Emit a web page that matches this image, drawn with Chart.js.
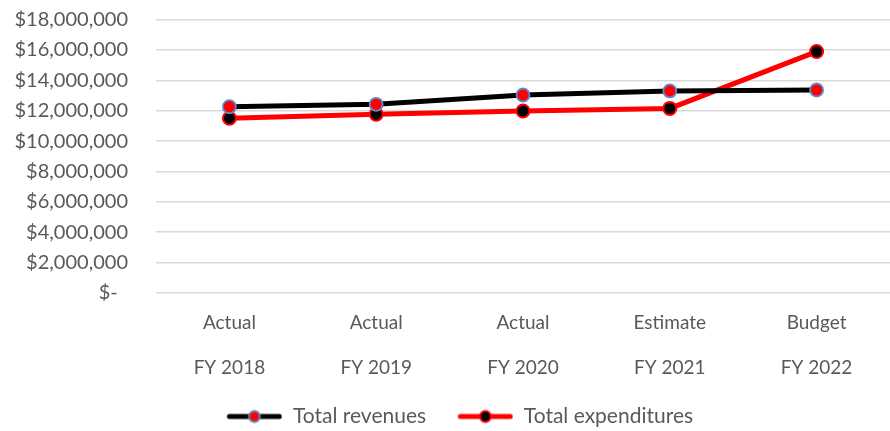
<!DOCTYPE html>
<html>
<head>
<meta charset="utf-8">
<script src="https://cdn.jsdelivr.net/npm/chart.js@4"></script>
<style>
  html, body { margin: 0; padding: 0; background: #fff; }
  #wrap { width: 890px; height: 431px; }
</style>
</head>
<body>
<div id="wrap"><canvas id="budgetChart"></canvas></div>
<script>
// datos
const stages = ['Actual', 'Actual', 'Actual', 'Estimate', 'Budget'];
const fiscalYears = ['FY 2018', 'FY 2019', 'FY 2020', 'FY 2021', 'FY 2022'];
const totalRevenues = [12260000, 12420000, 13030000, 13300000, 13360000];
const totalExpenditures = [11500000, 11760000, 11980000, 12150000, 15890000];
const yTicks = [0, 2000000, 4000000, 6000000, 8000000, 10000000, 12000000, 14000000, 16000000, 18000000];

const labels = stages.map((s, i) => [s, fiscalYears[i]]);
const FONT = 'Lato';
const TEXT = '#595959';
const ICON_GAP = 26;

// icono de leyenda: linea con marcador, con hueco en blanco a la izquierda
function legendIcon(lineColor, fill, border) {
    const c = document.createElement('canvas');
    c.width = 56 + ICON_GAP;
    c.height = 16;
    const g = c.getContext('2d');
    g.strokeStyle = lineColor;
    g.lineWidth = 5;
    g.lineCap = 'round';
    g.beginPath();
    g.moveTo(ICON_GAP + 3, 8);
    g.lineTo(ICON_GAP + 53, 8);
    g.stroke();
    g.beginPath();
    g.arc(ICON_GAP + 28, 8, 5.5, 0, Math.PI * 2);
    g.fillStyle = fill;
    g.fill();
    g.lineWidth = 1.8;
    g.strokeStyle = border;
    g.stroke();
    return c;
}
const icons = [
    legendIcon('#000000', '#ff0000', '#5b8bd0'),
    legendIcon('#ff0000', '#000000', '#ff0000')
];

function money(v) {
    if (v === 0) return '$-  ';
    return '$' + v.toLocaleString('en-US');
}

const ctx = document.getElementById('budgetChart').getContext('2d');
new Chart(ctx, {
    type: 'line',
    data: {
        labels: labels,
        datasets: [
            {
                label: 'Total revenues',
                data: totalRevenues,
                borderColor: '#000000',
                borderWidth: 5,
                pointRadius: 6.5,
                pointBackgroundColor: '#ff0000',
                pointBorderColor: '#5b8bd0',
                pointBorderWidth: 1.8,
                tension: 0
            },
            {
                label: 'Total expenditures',
                data: totalExpenditures,
                borderColor: '#ff0000',
                borderWidth: 5,
                pointRadius: 6.5,
                pointBackgroundColor: '#000000',
                pointBorderColor: '#ff0000',
                pointBorderWidth: 2,
                tension: 0
            }
        ]
    },
    options: {
        responsive: true,
        maintainAspectRatio: false,
        animation: false,
        layout: { autoPadding: false, padding: { top: 19.5, right: -3.5, bottom: -6, left: 0 } },
        plugins: {
            tooltip: { enabled: false },
            legend: {
                position: 'bottom',
                labels: {
                    usePointStyle: true,
                    pointStyleWidth: 56 + ICON_GAP,
                    padding: 0,
                    color: TEXT,
                    font: { family: FONT, size: 21 },
                    generateLabels(chart) {
                        const items = Chart.defaults.plugins.legend.labels.generateLabels(chart);
                        items.forEach((it, i) => {
                            it.pointStyle = icons[i];
                            // pequeño espacio entre items
                            if (i < items.length - 1) it.text += '\u2005';
                        });
                        return items;
                    }
                }
            }
        },
        scales: {
            x: {
                offset: true,
                grid: { display: false, drawTicks: false },
                border: { display: false },
                afterFit(scale) {
                    scale.height = 113;
                    scale.paddingLeft = 0;
                    scale.paddingRight = 0;
                },
                ticks: {
                    color: TEXT,
                    padding: 7,
                    maxRotation: 0,
                    autoSkip: false,
                    font: { family: FONT, size: 19, lineHeight: 2.37 }
                }
            },
            y: {
                min: 0,
                max: 18000000,
                border: { display: false },
                grid: { color: '#d9d9d9', lineWidth: 1.5, drawTicks: false },
                afterFit(scale) {
                    scale.width = 156;
                    scale.paddingTop = 0;
                    scale.paddingBottom = 0;
                },
                afterBuildTicks(scale) { scale.ticks = yTicks.map(v => ({ value: v })); },
                ticks: {
                    color: TEXT,
                    padding: 28,
                    autoSkip: false,
                    font: { family: FONT, size: 20 },
                    callback: v => money(v)
                }
            }
        }
    }
});
</script>
</body>
</html>
